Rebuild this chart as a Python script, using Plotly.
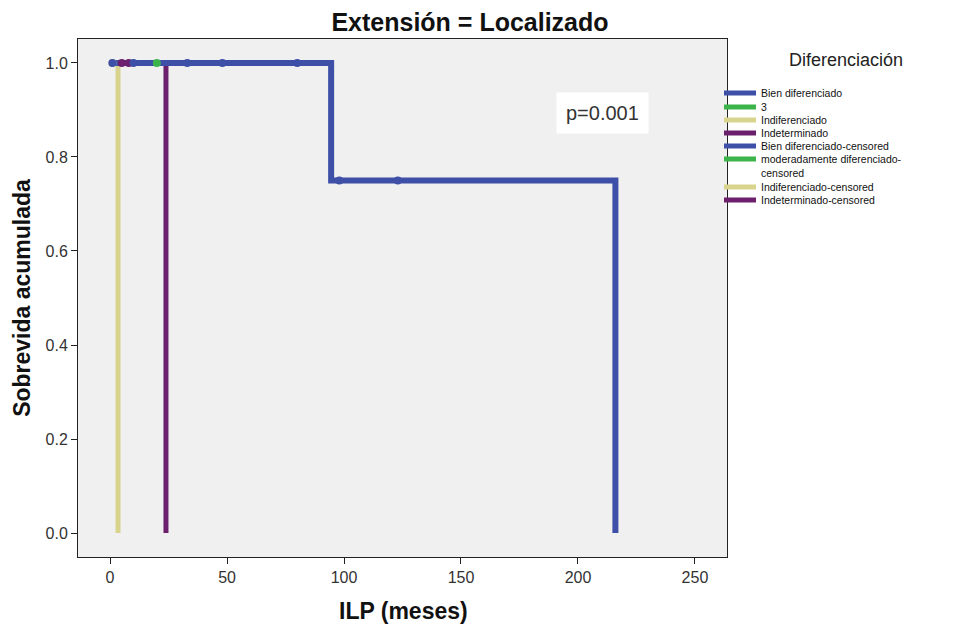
import plotly.graph_objects as go

# ---- data ----
groups = ["Bien diferenciado", "3", "Indiferenciado", "Indeterminado"]
censored_names = ["Bien diferenciado-censored",
                  "moderadamente diferenciado-<br>censored",
                  "Indiferenciado-censored",
                  "Indeterminado-censored"]
colors = ["#3d4fa6", "#3cb44a", "#d8d48e", "#6b1f6d"]

# survival steps (time in months, cumulative survival)
bien_t = [0, 94.5, 216]
bien_s = [1.0, 0.75, 0.0]
mod_t = [0, 20]
mod_s = [1.0, 1.0]
indif_t = [0, 3.4]
indif_s = [1.0, 0.0]
indet_t = [0, 23.9]
indet_s = [1.0, 0.0]

# censored observations
bien_ct = [1, 10, 33, 48, 80, 98, 123]
bien_cs = [1, 1, 1, 1, 1, 0.75, 0.75]
mod_ct = [20]
mod_cs = [1]
indif_ct = [1]
indif_cs = [1]
indet_ct = [5, 8]
indet_cs = [1, 1]

steps = [(bien_t, bien_s), (mod_t, mod_s), (indif_t, indif_s), (indet_t, indet_s)]
cens = [(bien_ct, bien_cs), (mod_ct, mod_cs), (indif_ct, indif_cs), (indet_ct, indet_cs)]

font = "Arial, Liberation Sans, sans-serif"

# page body has an 8px margin, so the figure is drawn 8px smaller
W, H = 945, 617
L, R, T, B = 70, 226, 31, 68


def px(xs):  # screen pixel -> paper x
    return (xs - 8 - L) / (W - L - R)


def py(ys):  # screen pixel -> paper y
    return (H - B - (ys - 8)) / (H - T - B)


fig = go.Figure()

# khaki first so the others overlay it
order = [2, 3, 1, 0]
for i in order:
    t, s = steps[i]
    fig.add_trace(go.Scatter(
        x=t, y=s, mode="lines", line_shape="hv",
        line=dict(color=colors[i], width=6 if i == 0 else 5),
        name=groups[i], showlegend=False,
    ))
for i in order:
    t, s = cens[i]
    fig.add_trace(go.Scatter(
        x=t, y=s, mode="markers",
        marker=dict(color=colors[i], size=8, symbol="circle"),
        name=censored_names[i].replace("<br>", ""), showlegend=False,
    ))

# legend drawn by hand (SPSS rows are tighter than plotly's legend allows)
labels = groups + censored_names
label_colors = colors + colors
rows_y = [93, 107, 120, 133, 146, 166, 187, 200]
fig.add_annotation(x=px(846), y=py(60), xref="paper", yref="paper",
                   text="Diferenciación", showarrow=False, xanchor="center",
                   yanchor="middle", font=dict(family=font, size=18, color="#222"))
for lab, col, yy in zip(labels, label_colors, rows_y):
    sym_y = yy - 7 if "<br>" in lab else yy
    fig.add_shape(type="line", xref="paper", yref="paper",
                  x0=px(724), x1=px(756), y0=py(sym_y), y1=py(sym_y),
                  line=dict(color=col, width=5))
    fig.add_annotation(x=px(759), y=py(yy), xref="paper", yref="paper",
                       text=lab, showarrow=False, xanchor="left", yanchor="middle",
                       align="left", font=dict(family=font, size=10.5, color="#111"))

fig.add_annotation(
    x=px(602), y=py(113), xref="paper", yref="paper",
    text="p=0.001", showarrow=False, xanchor="center", yanchor="middle",
    font=dict(family=font, size=20, color="#333"),
    bgcolor="white", borderpad=9,
)

# x axis title placed directly
fig.add_annotation(
    x=px(403), y=py(611), xref="paper", yref="paper",
    text="<b>ILP (meses)</b>", showarrow=False, xanchor="center", yanchor="middle",
    font=dict(family=font, size=23, color="#111"),
)

fig.update_layout(
    width=W, height=H, showlegend=False,
    paper_bgcolor="white", plot_bgcolor="#f0f0f0",
    margin=dict(l=L, r=R, t=T, b=B, autoexpand=False),
    font=dict(family=font, color="#222"),
    title=dict(text="<b>Extensión = Localizado</b>", x=(470 - 8) / W, xanchor="center",
               y=1 - (22 - 8) / H, yanchor="middle",
               font=dict(family=font, size=25, color="#111")),
)
fig.update_xaxes(
    range=[-13.7, 263.7], tickvals=[0, 50, 100, 150, 200, 250],
    showgrid=False, zeroline=False, automargin=False,
    showline=True, linecolor="#222", linewidth=1, mirror=True,
    ticks="outside", ticklen=6, tickcolor="#222",
    tickfont=dict(family=font, size=16, color="#333"),
)
fig.update_yaxes(
    range=[-0.051, 1.051], tickvals=[0, 0.2, 0.4, 0.6, 0.8, 1.0], tickformat=".1f",
    showgrid=False, zeroline=False, automargin=False,
    showline=True, linecolor="#222", linewidth=1, mirror=True,
    ticks="outside", ticklen=6, tickcolor="#222",
    tickfont=dict(family=font, size=16, color="#333"),
    title=dict(text="<b>Sobrevida acumulada</b>", font=dict(family=font, size=23, color="#111"),
               standoff=8),
)

fig.write_html("out.html")
